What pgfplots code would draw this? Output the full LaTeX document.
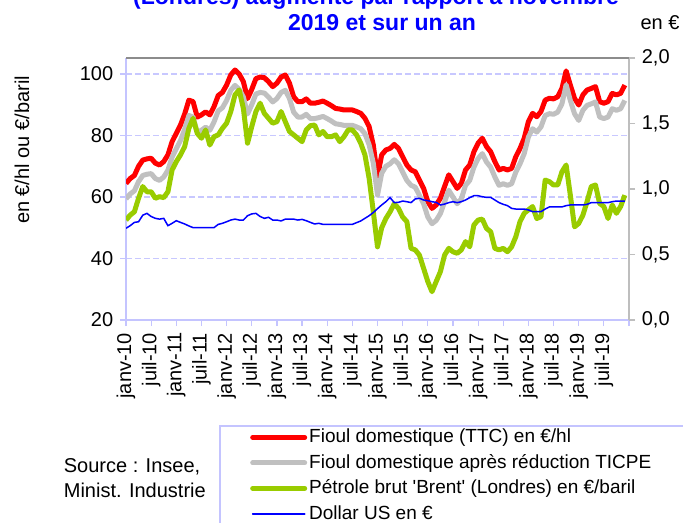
\documentclass[border=0pt]{standalone}
\usepackage{pgfplots}
\pgfplotsset{compat=1.18}
\usepackage{pgfplotstable}
\usepackage{fontspec}
\setmainfont{Liberation Sans}[Ligatures=TeXOff]

\definecolor{cred}{RGB}{255,0,0}
\definecolor{cgray}{RGB}{192,192,192}
\definecolor{cgreen}{RGB}{153,204,0}
\definecolor{cblue}{RGB}{0,0,255}
\definecolor{lav}{RGB}{196,196,255}
\definecolor{gridc}{RGB}{200,200,255}
\definecolor{raxis}{RGB}{190,190,190}
\definecolor{topline}{RGB}{140,140,140}

% m = mois depuis janv-10
\pgfplotstableread{
m red gray green usd
0 64.4 59.4 52.5 0.700
1 66.0 61.0 54.1 0.720
2 67.0 62.0 55.2 0.745
3 70.0 65.0 59.6 0.750
4 72.0 67.0 63.4 0.800
5 72.4 67.4 61.7 0.814
6 72.6 67.6 61.7 0.790
7 71.0 66.0 59.6 0.776
8 70.4 65.4 60.1 0.770
9 71.5 66.5 59.8 0.776
10 73.7 68.7 61.7 0.720
11 78.0 73.0 68.8 0.738
12 80.7 75.7 71.5 0.758
13 83.4 78.4 73.7 0.745
14 87.0 82.0 76.4 0.733
15 91.5 86.5 82.3 0.718
16 91.0 86.0 85.6 0.705
17 86.0 81.0 80.7 0.705
18 86.7 81.7 79.1 0.705
19 87.7 82.7 81.8 0.705
20 86.7 81.7 76.9 0.705
21 89.4 84.4 79.6 0.705
22 93.0 88.0 80.2 0.730
23 94.0 89.0 82.3 0.738
24 96.4 91.4 84.0 0.750
25 99.7 94.7 87.8 0.763
26 101.3 96.3 93.2 0.770
27 100.0 95.0 94.8 0.763
28 97.5 92.5 88.8 0.763
29 92.0 87.0 77.5 0.796
30 95.0 90.0 82.9 0.810
31 98.5 93.5 87.8 0.814
32 99.0 94.0 90.5 0.790
33 98.8 93.8 87.2 0.776
34 97.5 92.5 85.6 0.784
35 95.9 90.9 84.0 0.763
36 97.0 92.0 84.5 0.763
37 99.0 94.0 87.8 0.756
38 99.7 94.7 84.5 0.770
39 97.0 92.0 81.3 0.770
40 92.6 87.6 80.2 0.770
41 91.0 86.0 79.1 0.763
42 91.0 86.0 78.0 0.768
43 91.9 86.9 81.8 0.758
44 90.5 85.5 83.2 0.745
45 90.5 85.5 83.4 0.733
46 90.8 85.8 80.2 0.738
47 91.2 86.2 81.3 0.730
48 90.5 85.5 79.6 0.730
49 89.7 84.7 79.6 0.730
50 88.8 83.8 80.2 0.730
51 88.6 83.6 78.0 0.730
52 88.3 83.3 79.6 0.730
53 88.3 83.3 81.8 0.730
54 88.3 83.3 81.8 0.730
55 87.8 82.8 80.2 0.743
56 87.2 82.2 77.5 0.756
57 85.6 80.6 73.7 0.776
58 82.9 77.0 66.1 0.796
59 76.9 71.0 55.2 0.820
60 66.6 60.6 43.8 0.850
61 73.7 67.7 50.0 0.878
62 75.3 70.0 53.0 0.903
63 75.8 70.8 55.2 0.934
64 77.1 72.1 57.8 0.896
65 75.8 70.8 56.3 0.898
66 73.1 68.1 53.5 0.908
67 70.4 65.4 52.0 0.903
68 68.8 63.8 43.3 0.896
69 68.2 63.2 42.8 0.924
70 65.5 60.5 41.1 0.929
71 62.8 57.8 36.8 0.916
72 58.5 53.5 32.5 0.911
73 56.3 51.3 29.2 0.903
74 57.4 52.4 32.5 0.898
75 59.6 54.6 35.7 0.878
76 63.4 58.4 41.1 0.885
77 67.2 62.2 43.3 0.896
78 65.0 60.0 42.2 0.903
79 62.8 57.8 41.7 0.896
80 64.4 59.4 42.8 0.903
81 68.8 63.8 45.5 0.916
82 70.4 65.4 43.8 0.934
83 74.7 69.7 50.9 0.949
84 77.5 72.5 52.5 0.949
85 79.1 74.1 52.8 0.941
86 76.4 71.4 49.8 0.936
87 74.7 69.7 48.7 0.936
88 71.5 66.5 43.3 0.916
89 68.8 63.8 42.8 0.896
90 69.3 64.3 43.3 0.883
91 68.8 63.8 42.2 0.873
92 69.3 64.3 43.8 0.852
93 73.1 68.1 47.1 0.847
94 75.8 70.8 52.0 0.847
95 79.1 74.1 54.7 0.847
96 84.5 79.5 55.8 0.840
97 87.2 82.2 56.9 0.827
98 86.1 81.1 53.0 0.827
99 87.8 82.8 53.6 0.827
100 91.5 86.5 65.5 0.847
101 92.1 87.1 65.0 0.863
102 91.9 86.9 63.9 0.863
103 92.6 87.6 63.9 0.863
104 95.3 90.3 68.2 0.863
105 101.0 96.5 70.4 0.873
106 96.4 91.4 60.6 0.878
107 92.1 87.1 50.3 0.878
108 89.9 84.9 51.4 0.878
109 93.2 88.2 54.1 0.878
110 94.8 89.8 58.5 0.883
111 95.3 90.3 63.4 0.896
112 95.9 90.9 63.9 0.896
113 91.0 86.0 57.9 0.896
114 90.5 85.5 56.9 0.896
115 91.0 86.0 53.0 0.896
116 93.7 88.7 57.4 0.903
117 93.2 88.2 54.7 0.908
118 93.7 88.7 56.9 0.908
119 96.4 91.4 60.6 0.908
}\data

\begin{document}
\fontsize{20bp}{24bp}\selectfont
\begin{tikzpicture}
\path[use as bounding box] (0,0) rectangle (683bp,523bp);

\begin{axis}[
  at={(126bp,203bp)}, anchor=south west,
  scale only axis, width=503bp, height=262bp,
  xmin=0, xmax=120, ymin=20, ymax=105.2,
  axis x line*=bottom, axis y line*=left,
  axis line style={-, color=lav, line width=1.5bp},
  tick align=outside, major tick length=6bp,
  every tick/.style={color=lav, line width=1.2bp},
  ytick={20,40,60,80,100},
  xtick={0,6,...,120},
  xticklabels={janv-10,juil-10,janv-11,juil-11,janv-12,juil-12,janv-13,juil-13,janv-14,juil-14,janv-15,juil-15,janv-16,juil-16,janv-17,juil-17,janv-18,juil-18,janv-19,juil-19,{}},
  x tick label style={rotate=90, anchor=east, font=\fontsize{20bp}{24bp}\selectfont},
  y tick label style={font=\fontsize{20bp}{24bp}\selectfont},
  /pgf/number format/assume math mode=true,
  ymajorgrids, grid style={color=gridc, line width=1.3bp, dash pattern=on 6bp off 3bp},
  legend style={at={(axis description cs:0.2465,-0.408)}, anchor=north west,
    draw=none, fill=none, inner sep=0pt, row sep=4.5bp,
    font=\fontsize{19bp}{22bp}\selectfont, cells={anchor=west}},
  legend cell align=left,
  legend image code/.code={\draw[#1, line cap=round] (0bp,0bp) -- (52bp,0bp);},
]
\addplot[color=cred, line width=5bp, line join=round] table[x=m, y=red] {\data};
\addlegendentry{Fioul domestique (TTC) en €/hl}
\addplot[color=cgray, line width=5bp, line join=round] table[x=m, y=gray] {\data};
\addlegendentry{Fioul domestique après réduction TICPE}
\addplot[color=cgreen, line width=5bp, line join=round] table[x=m, y=green] {\data};
\addlegendentry{Pétrole brut 'Brent' (Londres) en €/baril}
\addlegendimage{draw=cblue, line width=1.8bp}
\addlegendentry{Dollar US en €}
\end{axis}

\begin{axis}[
  at={(126bp,203bp)}, anchor=south west,
  scale only axis, width=503bp, height=262bp,
  xmin=0, xmax=120, ymin=0, ymax=2,
  axis x line=none, axis y line*=right,
  axis line style={-, color=raxis, line width=2bp},
  tick align=outside, major tick length=6bp,
  every tick/.style={color=raxis, line width=1.2bp},
  ytick={0,0.5,1,1.5,2},
  y tick label style={font=\fontsize{20bp}{24bp}\selectfont,
    /pgf/number format/.cd, fixed, fixed zerofill, precision=1, use comma},
  /pgf/number format/assume math mode=true,
]
\addplot[color=cblue, line width=1.5bp] table[x=m, y=usd] {\data};
\draw[topline, line width=1.5bp] (rel axis cs:0,1) -- (rel axis cs:1,1);
\end{axis}

\draw[lav, line width=1.2bp] (220bp,-5bp) rectangle (690bp,97bp);

\node[anchor=base, text=cblue, font=\fontsize{23bp}{26bp}\selectfont\bfseries] at (376bp,518bp) {(Londres) augmente par rapport à novembre};
\node[anchor=base, text=cblue, font=\fontsize{23bp}{26bp}\selectfont\bfseries] at (382bp,492bp) {2019 et sur un an};
\node[anchor=base] at (660bp,493bp) {en €};
\node[rotate=90] at (22bp,373bp) {en €/hl ou €/baril};
\node[anchor=base west] at (57bp,50bp) {Source : Insee,};
\node[anchor=base west] at (57bp,26bp) {Minist. Industrie};
\end{tikzpicture}
\end{document}
